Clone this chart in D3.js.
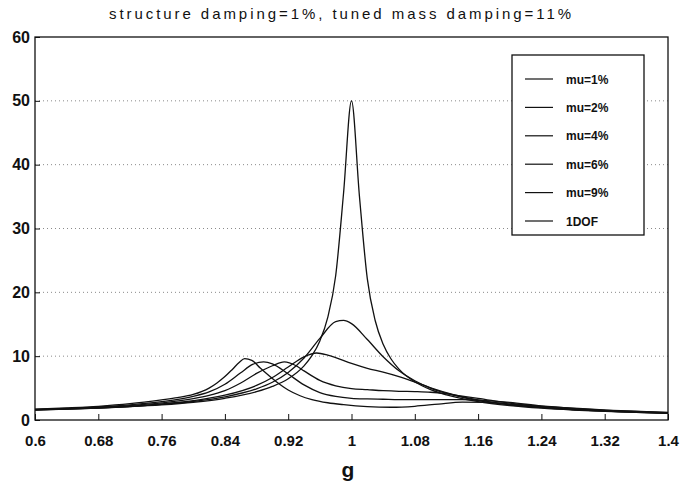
<!DOCTYPE html>
<html><head><meta charset="utf-8">
<script src="https://cdn.jsdelivr.net/npm/d3@7"></script>
<style>
html,body{margin:0;padding:0;background:#fff;}
svg text{font-family:"Liberation Sans",Arial,Helvetica,sans-serif;fill:#111;}
</style></head>
<body><svg id="chart" width="680" height="488"></svg>
<script>
const titleText = "structure damping=1%, tuned mass damping=11%";
const xLabel = "g";
const xTicks = [0.6,0.68,0.76,0.84,0.92,1,1.08,1.16,1.24,1.32,1.4];
const yTicks = [0,10,20,30,40,50,60];
const gridValues = [10,20,30,40,50];
const seriesNames = ["mu=1%","mu=2%","mu=4%","mu=6%","mu=9%","1DOF"];

const gMu1 = [0.6,0.64,0.68,0.72,0.76,0.8,0.84,0.88,0.9,0.92,0.94,0.96,0.98,0.99,1.0,1.02,1.04,1.06,1.08,1.1,1.13,1.16,1.2,1.24,1.28,1.34,1.4];
const hMu1 = [1.58,1.71,1.88,2.11,2.44,2.90,3.62,4.88,5.92,7.44,9.71,12.78,15.4,15.6,15.1,12.6,9.9,7.7,6.15,5.0,3.85,3.04,2.37,1.93,1.61,1.28,1.06];

const gMu2 = [0.6,0.64,0.68,0.72,0.76,0.8,0.84,0.88,0.9,0.92,0.94,0.956,0.97,0.98,1.0,1.02,1.04,1.06,1.08,1.1,1.13,1.16,1.2,1.24,1.28,1.34,1.4];
const hMu2 = [1.59,1.73,1.90,2.15,2.51,3.03,3.88,5.41,6.66,8.30,9.90,10.5,10.15,9.76,8.87,8.1,7.5,6.8,5.95,5.05,3.95,3.15,2.45,1.98,1.64,1.30,1.08];

const gMu4 = [0.6,0.64,0.68,0.72,0.76,0.8,0.82,0.84,0.86,0.88,0.9,0.915,0.93,0.94,0.96,0.98,1.0,1.02,1.04,1.06,1.08,1.1,1.12,1.14,1.16,1.2,1.24,1.28,1.34,1.4];
const hMu4 = [1.62,1.78,1.97,2.25,2.68,3.34,3.85,4.6,5.8,7.3,8.5,9.1,8.5,7.7,6.2,5.35,4.9,4.75,4.6,4.5,4.45,4.35,4.1,3.75,3.4,2.65,2.1,1.75,1.38,1.11];

const gMu6 = [0.6,0.64,0.68,0.72,0.76,0.8,0.82,0.84,0.86,0.875,0.889,0.9,0.92,0.94,0.96,0.98,1.0,1.02,1.04,1.06,1.08,1.1,1.12,1.14,1.16,1.2,1.24,1.28,1.34,1.4];
const hMu6 = [1.65,1.83,2.05,2.37,2.87,3.70,4.4,5.6,7.4,8.7,9.1,8.8,7.2,5.5,4.3,3.7,3.4,3.3,3.25,3.2,3.2,3.2,3.2,3.2,3.1,2.75,2.2,1.82,1.42,1.15];

const gMu9 = [0.6,0.64,0.68,0.72,0.76,0.78,0.8,0.82,0.83,0.84,0.85,0.858,0.865,0.874,0.885,0.905,0.92,0.935,0.95,0.97,0.99,1.02,1.05,1.08,1.11,1.14,1.17,1.2,1.24,1.28,1.34,1.4];
const hMu9 = [1.70,1.90,2.15,2.55,3.15,3.5,4.0,5.0,5.8,6.8,8.0,9.0,9.6,9.35,8.1,6.0,4.7,3.8,3.2,2.7,2.4,2.1,2.0,2.15,2.5,2.8,2.75,2.5,2.15,1.85,1.45,1.2];

const g1dof = [0.6,0.64,0.68,0.72,0.76,0.8,0.84,0.88,0.9,0.92,0.94,0.95,0.96,0.97,0.98,0.99,1.0,1.01,1.02,1.03,1.04,1.05,1.06,1.08,1.1,1.12,1.16,1.2,1.24,1.28,1.32,1.36,1.4];
const h1dof = [1.56,1.69,1.86,2.08,2.37,2.78,3.40,4.43,5.26,6.46,8.48,10.07,12.39,16.08,22.6,35.6,50,35.1,22.1,15.55,11.87,9.56,7.97,5.98,4.75,3.93,2.89,2.27,1.86,1.57,1.35,1.18,1.04];

const seriesG = [gMu1,gMu2,gMu4,gMu6,gMu9,g1dof];
const seriesH = [hMu1,hMu2,hMu4,hMu6,hMu9,h1dof];

const svg = d3.select("#chart");
const L = 35, R = 668, T = 37, B = 420;
const x = d3.scaleLinear().domain([0.6,1.4]).range([L,R]);
const y = d3.scaleLinear().domain([0,60]).range([B,T]);

// grid
svg.append("g").selectAll("line").data(gridValues).join("line")
  .attr("x1",L).attr("x2",R).attr("y1",d=>y(d)).attr("y2",d=>y(d))
  .attr("stroke","#8a8a8a").attr("stroke-width",1).attr("stroke-dasharray","1,3");

// axes
const xAxis = svg.append("g").attr("transform",`translate(0,${B})`)
  .call(d3.axisBottom(x).tickValues(xTicks).tickSize(-6).tickPadding(15).tickFormat(d=>String(d)));
xAxis.select(".domain").remove();
xAxis.selectAll("line").attr("stroke","#111");
xAxis.selectAll("text").attr("font-size",15).attr("font-weight","bold")
  .style("font-family",'"Liberation Sans",Arial,sans-serif').attr("fill","#111");

const yAxis = svg.append("g").attr("transform",`translate(${L},0)`)
  .call(d3.axisLeft(y).tickValues(yTicks).tickSize(-5).tickPadding(5).tickFormat(d=>String(d)));
yAxis.select(".domain").remove();
yAxis.selectAll("line").attr("stroke","#111");
yAxis.selectAll("text").attr("font-size",16).attr("font-weight","bold")
  .style("font-family",'"Liberation Sans",Arial,sans-serif').attr("fill","#111");

// frame
svg.append("rect").attr("x",L).attr("y",T).attr("width",R-L).attr("height",B-T)
  .attr("fill","none").attr("stroke","#111").attr("stroke-width",1.3);

// curves
const line = d3.line().x(d=>x(d[0])).y(d=>y(d[1])).curve(d3.curveMonotoneX);
seriesG.forEach((gs,i)=>{
  const pts = gs.map((g,j)=>[g,seriesH[i][j]]);
  svg.append("path").datum(pts).attr("d",line)
    .attr("fill","none").attr("stroke","#111").attr("stroke-width",1.3);
});

// title
svg.append("text").attr("x",340).attr("y",19).attr("text-anchor","middle")
  .attr("font-size",15).attr("textLength",462).attr("lengthAdjust","spacing").text(titleText);

// x label
svg.append("text").attr("x",348).attr("y",477).attr("text-anchor","middle")
  .attr("font-size",21).attr("font-weight","bold").text(xLabel);

// legend
const lg = svg.append("g");
lg.append("rect").attr("x",512).attr("y",55).attr("width",132).attr("height",180)
  .attr("fill","#fff").attr("stroke","#111").attr("stroke-width",1.3);
const rowY = d3.scalePoint().domain(seriesNames).range([79,221]);
seriesNames.forEach(n=>{
  lg.append("line").attr("x1",525).attr("x2",553).attr("y1",rowY(n)).attr("y2",rowY(n))
    .attr("stroke","#111").attr("stroke-width",1.2);
  lg.append("text").attr("x",566).attr("y",rowY(n)+4.5).attr("font-size",12)
    .attr("font-weight","bold").text(n);
});
</script></body></html>
